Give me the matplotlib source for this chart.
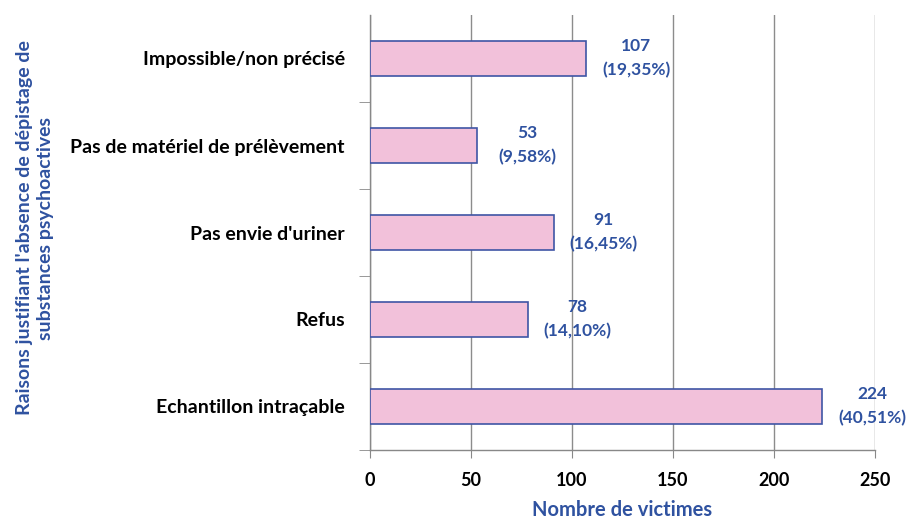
import matplotlib
matplotlib.use("Agg")
import matplotlib.pyplot as plt

categories = ["Echantillon intraçable", "Refus", "Pas envie d'uriner",
              "Pas de matériel de prélèvement", "Impossible/non précisé"]
values = [224, 78, 91, 53, 107]
percents = ["40,51%", "14,10%", "16,45%", "9,58%", "19,35%"]
xticks = [0, 50, 100, 150, 200, 250]

plt.rcParams['font.family'] = ['Lato', 'DejaVu Sans']
blue = '#2F52A0'

fig = plt.figure(figsize=(9.07, 5.19), dpi=100)
ax = fig.add_axes([370/907, 1-450/519, 505/907, 435/519])

ypos = list(range(len(categories)))
ax.barh(ypos, values, height=0.4, color='#F2C1DA', edgecolor='#3F55A5', linewidth=1.2, zorder=3)
ax.set_xlim(0, 250)
ax.set_ylim(-0.5, len(categories) - 0.5)
ax.set_xticks(xticks)
ax.set_xticklabels([str(t) for t in xticks], fontsize=13, fontweight='bold')
ax.set_yticks(ypos)
ax.set_yticklabels(categories, fontsize=14, fontweight='bold')
ax.set_yticks([y + 0.5 for y in ypos[:-1]] + [-0.5], minor=True)
ax.tick_params(axis='y', which='major', length=0, pad=18)
ax.tick_params(axis='y', which='minor', length=8, color='#888888', direction='out')
ax.tick_params(axis='x', length=6, color='#888888', direction='out', pad=10)
ax.grid(axis='x', color='#8c8c8c', linewidth=1, zorder=0)
for s in ['top', 'right']:
    ax.spines[s].set_visible(False)
for s in ['left', 'bottom']:
    ax.spines[s].set_color('#888888')
    ax.spines[s].set_linewidth(1)

for y, v, p in zip(ypos, values, percents):
    ax.annotate(f"{v}\n({p})", xy=(v, y), xytext=(36, 0), textcoords='offset points',
                ha='center', va='center', fontsize=12.5, fontweight='bold', color=blue,
                linespacing=1.6)

fig.text(622/907, 1-510/519, "Nombre de victimes", ha='center', va='center',
         fontsize=14.5, fontweight='bold', color=blue)
fig.text(35/907, 1-228/519, "Raisons justifiant l'absence de dépistage de\nsubstances psychoactives",
         rotation=90, ha='center', va='center', fontsize=14, fontweight='bold', color=blue,
         multialignment='center', linespacing=1.3)

fig.savefig("out.png", dpi=100)
